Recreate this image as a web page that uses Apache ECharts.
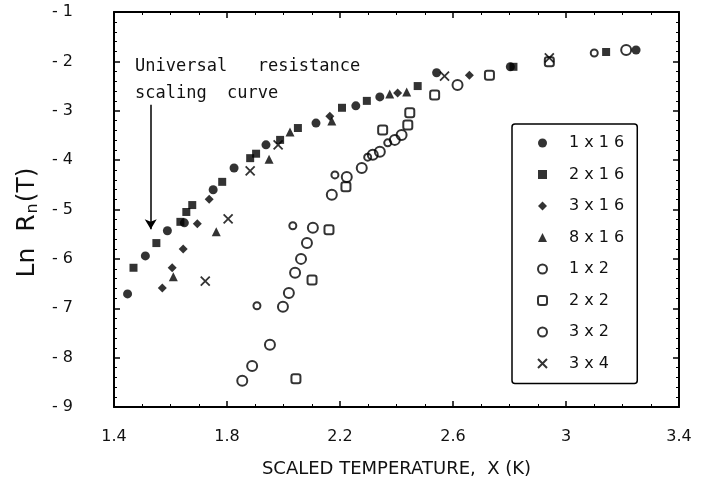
<!DOCTYPE html>
<html><head><meta charset="utf-8">
<script src="https://cdn.jsdelivr.net/npm/echarts@6/dist/echarts.min.js"></script>
<style>html,body{margin:0;padding:0;background:#fff}#c{width:708px;height:491px}</style>
</head><body><div id="c"></div>
<script>
const seriesNames = ['1x16','2x16','3x16','8x16','1x2','2x2','3x2','3x4'];
const s1x16 = [[1.448,-6.71],[1.511,-5.94],[1.589,-5.43],[1.649,-5.27],[1.751,-4.60],[1.825,-4.16],[1.938,-3.69],[2.115,-3.25],[2.256,-2.90],[2.341,-2.72],[2.542,-2.23],[2.803,-2.11],[3.248,-1.77]];
const s2x16 = [[1.469,-6.18],[1.550,-5.68],[1.635,-5.25],[1.656,-5.05],[1.677,-4.91],[1.783,-4.44],[1.882,-3.96],[1.903,-3.87],[1.988,-3.59],[2.051,-3.35],[2.207,-2.94],[2.295,-2.80],[2.475,-2.50],[2.814,-2.11],[3.142,-1.81]];
const s3x16 = [[1.571,-6.59],[1.606,-6.18],[1.645,-5.80],[1.695,-5.29],[1.737,-4.79],[2.164,-3.11],[2.404,-2.64],[2.658,-2.28]];
const s8x16 = [[1.610,-6.36],[1.762,-5.45],[1.949,-3.98],[2.023,-3.43],[2.171,-3.21],[2.376,-2.66],[2.436,-2.62]];
const s1x2 = [[1.854,-8.47],[1.889,-8.17],[1.952,-7.74],[1.998,-6.97],[2.019,-6.69],[2.041,-6.28],[2.062,-6.00],[2.083,-5.68],[2.104,-5.37],[2.171,-4.70],[2.224,-4.34],[2.277,-4.16],[2.316,-3.89],[2.341,-3.83],[2.394,-3.59],[2.418,-3.49],[2.616,-2.48],[3.213,-1.77]];
const s2x2 = [[2.044,-8.43],[2.101,-6.43],[2.161,-5.41],[2.221,-4.54],[2.351,-3.39],[2.440,-3.29],[2.447,-3.04],[2.535,-2.68],[2.729,-2.28],[2.941,-2.01]];
const s3x2 = [[1.906,-6.95],[2.033,-5.33],[2.182,-4.30],[2.298,-3.94],[2.369,-3.65],[3.100,-1.83]];
const s3x4 = [[1.723,-6.45],[1.804,-5.19],[1.882,-4.22],[1.981,-3.69],[2.570,-2.30],[2.941,-1.93]];
const xMin = 1.4, xMax = 3.4, xStep = 0.4;
const yMin = -9, yMax = -1, yStep = 1;
const arrowFrom = [1.53, -2.88];
const arrowTo = [1.53, -5.40];
const annotationLines = ['Universal   resistance', 'scaling  curve'];

const dataMap = {'1x16':s1x16,'2x16':s2x16,'3x16':s3x16,'8x16':s8x16,'1x2':s1x2,'2x2':s2x2,'3x2':s3x2,'3x4':s3x4};
const xPath = 'path://M0,0L10,10M10,0L0,10';
const styleMap = {
  '1x16': {symbol:'circle', size:9, filled:true},
  '2x16': {symbol:'rect', size:8, filled:true},
  '3x16': {symbol:'diamond', size:9, filled:true},
  '8x16': {symbol:'triangle', size:9, filled:true},
  '1x2': {symbol:'circle', size:10, filled:false, bw:2},
  '2x2': {symbol:'roundRect', size:9, filled:false, bw:2},
  '3x2': {symbol:'circle', size:7, filled:false, bw:2},
  '3x4': {symbol:xPath, size:9, filled:false, bw:1.8}
};

const series = seriesNames.map(n => {
  const st = styleMap[n];
  return {
    name: n, type: 'scatter', data: dataMap[n],
    symbol: st.symbol, symbolSize: st.size,
    itemStyle: st.filled ? {color:'#000'} : {color:'rgba(255,255,255,0)', borderColor:'#000', borderWidth: st.bw},
    emphasis: {disabled: true},
    z: st.filled ? 3 : 2
  };
});
series.push({
  type:'line', name:'annot', data:[], silent:true,
  markLine:{
    silent:true, symbol:['none','arrow'], symbolSize:[9,10],
    lineStyle:{color:'#000', width:1.5, type:'solid'},
    label:{show:false},
    data:[[{coord:arrowFrom},{coord:arrowTo}]]
  }
});

const axisCommon = {
  axisLine:{show:true, lineStyle:{color:'#000', width:2}},
  axisTick:{show:true, inside:true, length:6, lineStyle:{color:'#000', width:1.5}},
  splitLine:{show:false}
};
const minorX = {minorTick:{show:true, splitNumber:4, length:3, lineStyle:{color:'#000', width:1}}};
const minorY = {minorTick:{show:true, splitNumber:5, length:3, lineStyle:{color:'#000', width:1}}};

const chart = echarts.init(document.getElementById('c'), null, {renderer:'canvas'});
chart.setOption({
  animation:false,
  backgroundColor:'#fff',
  grid:{left:114, right:29, top:12, bottom:84, containLabel:false},
  xAxis:[
    Object.assign({type:'value', min:xMin, max:xMax, interval:xStep, position:'bottom',
      name:'SCALED TEMPERATURE,  X (K)', nameLocation:'middle', nameGap:53,
      nameTextStyle:{fontFamily:'DejaVu Sans', fontSize:18, color:'#111'},
      axisLabel:{margin:22, fontFamily:'DejaVu Sans', fontSize:16, color:'#111',
        formatter: v => String(Math.round(v*10)/10)}}, axisCommon, minorX),
    Object.assign({type:'value', min:xMin, max:xMax, interval:xStep, position:'top', axisLabel:{show:false}}, axisCommon, minorX)
  ],
  yAxis:[
    Object.assign({type:'value', min:yMin, max:yMax, interval:yStep, position:'left',
      name:'{a|Ln  R}{b|n}{a|(T)}', nameLocation:'middle', nameGap:68, nameRotate:90,
      nameTextStyle:{fontFamily:'DejaVu Sans', color:'#111', padding:[0,26,0,0],
        rich:{a:{fontSize:25, fontFamily:'DejaVu Sans', color:'#111'}, b:{fontSize:16, fontFamily:'DejaVu Sans', color:'#111', verticalAlign:'top', padding:[12,1,0,1]}}},
      axisLabel:{margin:41, fontFamily:'DejaVu Sans', fontSize:16, color:'#111',
        formatter: v => '- ' + Math.abs(v)}}, axisCommon, minorY),
    Object.assign({type:'value', min:yMin, max:yMax, interval:yStep, position:'right', axisLabel:{show:false}}, axisCommon, minorY)
  ],
  legend:{
    data: seriesNames, orient:'vertical', left:512, top:124,
    itemWidth:9, itemHeight:9, itemGap:15.5,
    padding:[11, 13, 12, 25],
    borderColor:'#000', borderWidth:1.5, borderRadius:3,
    backgroundColor:'#fff',
    selectedMode:false,
    formatter: n => n.split('').join(' '),
    textStyle:{fontFamily:'DejaVu Sans', fontSize:16, color:'#111', padding:[0,0,0,17]}
  },
  graphic:[
    {type:'text', left:135, top:58, style:{text:annotationLines[0], font:'17px "DejaVu Sans Mono"', fill:'#111'}},
    {type:'text', left:135, top:85, style:{text:annotationLines[1], font:'17px "DejaVu Sans Mono"', fill:'#111'}}
  ],
  series: series
});
</script>
</body></html>
